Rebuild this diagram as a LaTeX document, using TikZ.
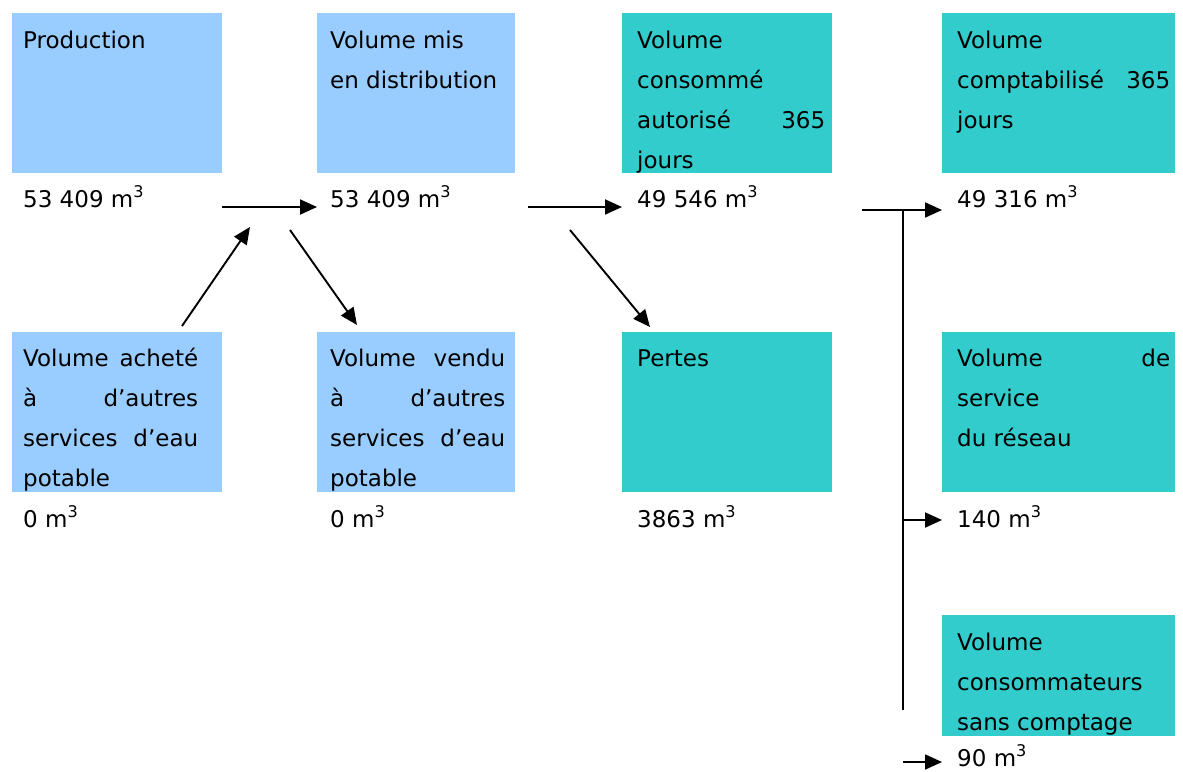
\documentclass[tikz,border=0pt]{standalone}
\usepackage{fontspec}
\setmainfont{DejaVu Sans}
\usetikzlibrary{arrows.meta,calc}
\definecolor{lblue}{HTML}{99CCFF}
\definecolor{tealbox}{HTML}{33CCCC}
\newcommand\tb[2]{\parbox[t]{#1pt}{\fontsize{23}{40}\selectfont #2}}
\newcommand\jl[1]{\makebox[\linewidth][s]{#1}}
\newcommand\mc{m\textsuperscript{3}}
\begin{document}
\begin{tikzpicture}[x=1pt,y=-1pt,
  box/.style={inner sep=0pt, outer sep=0pt, draw=none, anchor=north west},
  bluebox/.style={box, fill=lblue},
  tealb/.style={box, fill=tealbox},
  arr/.style={line width=1.9pt, -{Triangle[length=17pt,width=15pt]}},
  ln/.style={line width=1.9pt},
  lab/.style={anchor=base west, inner sep=0pt, font=\fontsize{23}{40}\selectfont},
  txt/.style={anchor=base west, inner sep=0pt}]
\useasboundingbox (0,0) rectangle (1183,771);
\fill[white] (0,0) rectangle (1183,771);
% boxes row 1
\node[bluebox, minimum width=210pt, minimum height=160pt] (b1) at (12,13) {};
\node[bluebox, minimum width=198pt, minimum height=160pt] (b2) at (317,13) {};
\node[tealb, minimum width=210pt, minimum height=160pt] (b3) at (622,13) {};
\node[tealb, minimum width=233pt, minimum height=160pt] (b4) at (942,13) {};
% boxes row 2
\node[bluebox, minimum width=210pt, minimum height=160pt] (b5) at (12,332) {};
\node[bluebox, minimum width=198pt, minimum height=160pt] (b6) at (317,332) {};
\node[tealb, minimum width=210pt, minimum height=160pt] (b7) at (622,332) {};
\node[tealb, minimum width=233pt, minimum height=160pt] (b8) at (942,332) {};
\node[tealb, minimum width=233pt, minimum height=121pt] (b9) at (942,615) {};
% texts
\node[txt] (t1) at (23,48) {\tb{175}{Production}};
\node[txt] (t2) at (330,48) {\tb{175}{Volume mis\\en distribution}};
\node[txt] (t3) at (637,48) {\tb{188}{Volume\\consommé\\\jl{autorisé 365}\\jours}};
\node[txt] (t4) at (957,48) {\tb{213}{Volume\\\jl{comptabilisé 365}\\jours}};
\node[txt] (t5) at (23,366) {\tb{175}{\jl{Volume acheté}\\\jl{à d’autres}\\\jl{services d’eau}\\potable}};
\node[txt] (t6) at (330,366) {\tb{175}{\jl{Volume vendu}\\\jl{à d’autres}\\\jl{services d’eau}\\potable}};
\node[txt] (t7) at (637,366) {\tb{188}{Pertes}};
\node[txt] (t8) at (957,366) {\tb{213}{\jl{Volume de}\\service\\du réseau}};
\node[txt] (t9) at (957,650) {\tb{213}{Volume\\consommateurs\\sans comptage}};
% value labels
\node[lab] (l1) at (23,207) {53 409 \mc};
\node[lab] (l2) at (330,207) {53 409 \mc};
\node[lab] (l3) at (637,207) {49 546 \mc};
\node[lab] (l4) at (957,207) {49 316 \mc};
\node[lab] (l5) at (23,527) {0 \mc};
\node[lab] (l6) at (330,527) {0 \mc};
\node[lab] (l7) at (637,527) {3863 \mc};
\node[lab] (l8) at (957,527) {140 \mc};
\node[lab] (l9) at (957,766) {90 \mc};
% connector coordinates
\coordinate (p1) at ($(b1.south east)+(0,34)$);
\coordinate (p2) at ($(b2.south west)+(0,34)$);
\coordinate (p3) at ($(b2.south east)+(13,34)$);
\coordinate (p4) at ($(b3.south west)+(0,34)$);
\coordinate (p5) at ($(b3.south east)+(30,37)$);
\coordinate (p6) at ($(b4.south west)+(0,37)$);
\coordinate (j1) at ($(b4.south west)+(-39,37)$);
\coordinate (j2) at ($(b8.south west)+(-39,28)$);
\coordinate (j3) at ($(b8.south west)+(0,28)$);
\coordinate (j4) at ($(b9.north west)+(-39,95)$);
\coordinate (j5) at ($(b9.south west)+(-39,26)$);
\coordinate (j6) at ($(b9.south west)+(0,26)$);
\coordinate (q1) at ($(b5.north east)+(-40,-6)$);
\coordinate (q2) at ($(b1.south east)+(28,54)$);
\coordinate (q3) at ($(b1.south east)+(68,57)$);
\coordinate (q4) at ($(b6.north west)+(40,-7)$);
\coordinate (q5) at ($(b2.south east)+(55,57)$);
\coordinate (q6) at ($(b7.north west)+(28,-5)$);
% connectors
\draw[arr] (p1) -- (p2);
\draw[arr] (p3) -- (p4);
\draw[arr] (p5) -- (p6);
\draw[ln] (j1) -- (j4);
\draw[arr] (j2) -- (j3);
\draw[arr] (j5) -- (j6);
\draw[arr] (q1) -- (q2);
\draw[arr] (q3) -- (q4);
\draw[arr] (q5) -- (q6);
\end{tikzpicture}
\end{document}
